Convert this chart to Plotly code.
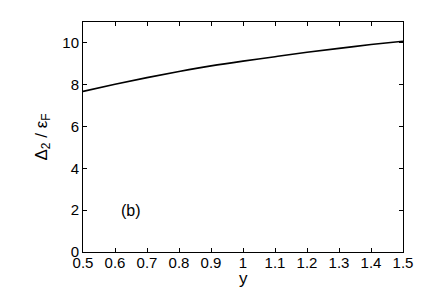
import plotly.graph_objects as go

# Curve
y_param = [0.5, 0.6, 0.7, 0.8, 0.9, 1.0, 1.1, 1.2, 1.3, 1.4, 1.5]
delta2_eF = [7.68, 8.02, 8.34, 8.63, 8.90, 9.13, 9.34, 9.55, 9.74, 9.92, 10.08]

x_ticks = [0.5, 0.6, 0.7, 0.8, 0.9, 1.0, 1.1, 1.2, 1.3, 1.4, 1.5]
x_ticklabels = ["0.5", "0.6", "0.7", "0.8", "0.9", "1", "1.1", "1.2", "1.3", "1.4", "1.5"]
y_ticks = [0, 2, 4, 6, 8, 10]

font_family = "Liberation Sans, Arial, sans-serif"

fig = go.Figure()

fig.add_trace(go.Scatter(
    x=y_param, y=delta2_eF,
    mode="lines",
    line=dict(color="black", width=1.6, shape="spline"),
    showlegend=False,
    hoverinfo="skip"
))

# panel label
fig.add_annotation(
    x=0.65, y=2.0,
    text="(b)",
    showarrow=False,
    font=dict(family=font_family, size=16, color="black")
)

# x axis title placed by hand so it is not cut at the bottom
fig.add_annotation(
    x=0.5, y=0, xref="paper", yref="paper",
    yanchor="middle", yshift=-26,
    text="y",
    showarrow=False,
    font=dict(family=font_family, size=17, color="black")
)

axis_common = dict(
    showgrid=False,
    zeroline=False,
    showline=True,
    linecolor="black",
    linewidth=1,
    mirror="ticks",
    ticks="inside",
    ticklen=4,
    tickcolor="black",
    tickfont=dict(family=font_family, size=15, color="black"),
)

# page body adds ~8px offset, margins compensate
fig.update_layout(
    width=436,
    height=291,
    margin=dict(l=75, r=41, t=14, b=47),
    paper_bgcolor="white",
    plot_bgcolor="white",
    font=dict(family=font_family, color="black"),
    xaxis=dict(
        range=[0.5, 1.5],
        tickvals=x_ticks,
        ticktext=x_ticklabels,
        ticklabelstandoff=-3,
        **axis_common
    ),
    yaxis=dict(
        range=[0, 11],
        tickvals=y_ticks,
        title=dict(text="Δ<sub>2</sub> / ε<sub>F</sub>", font=dict(size=17), standoff=10),
        **axis_common
    ),
)

fig.write_html("out.html")
